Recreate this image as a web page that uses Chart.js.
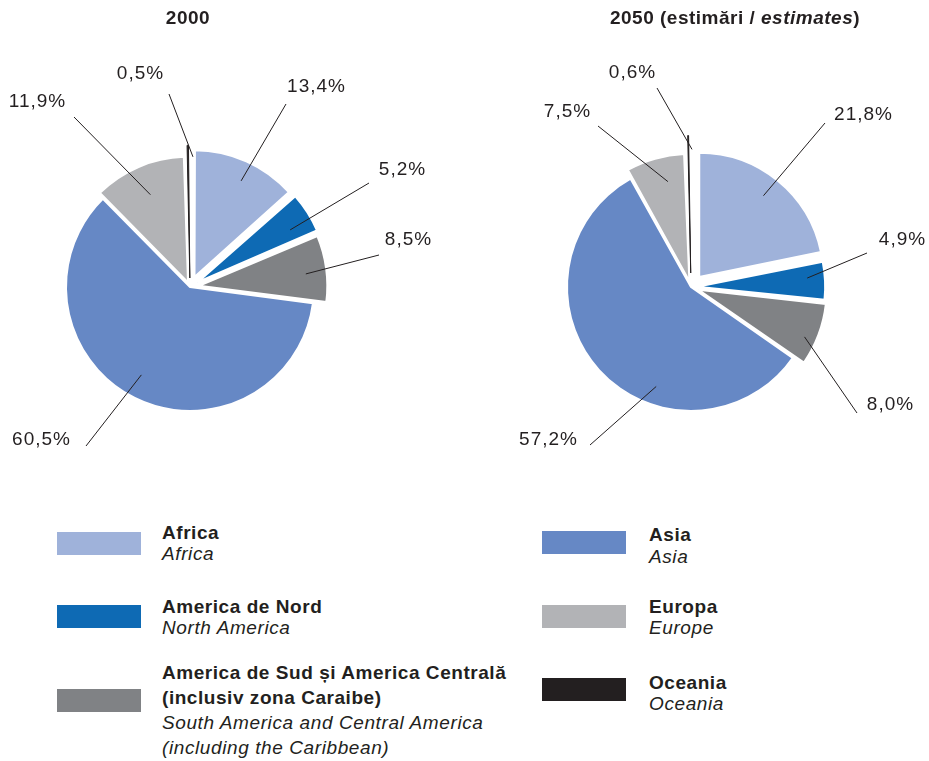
<!DOCTYPE html>
<html>
<head>
<meta charset="utf-8">
<script src="https://cdn.jsdelivr.net/npm/chart.js@4.4.1/dist/chart.umd.min.js"></script>
<style>
  html, body { margin: 0; padding: 0; background: #ffffff; }
  body { width: 929px; height: 761px; position: relative; overflow: hidden;
         font-family: "Liberation Sans", Arial, Helvetica, sans-serif; color: #231f20; }
  canvas { position: absolute; top: 0; }
  .title { position: absolute; top: 7px; font-weight: bold; font-size: 19px; line-height: 21px;
           letter-spacing: 0.5px; white-space: nowrap; transform: translateX(-50%); }
  .sw { position: absolute; width: 84px; height: 23px; }
  .lt { position: absolute; font-size: 19px; white-space: nowrap; }
  .lt .b { font-weight: bold; letter-spacing: 0.55px; }
  .lt .i { font-style: italic; letter-spacing: 0.6px; }
</style>
</head>
<body>
<canvas id="c2000" width="464" height="480" style="left:0px"></canvas>
<canvas id="c2050" width="465" height="480" style="left:464px"></canvas>
<div class="title" style="left:188px">2000</div>
<div class="title" style="left:735px">2050 (estimări / <i>estimates</i>)</div>
<div id="legend"></div>
<script>
// ---- data ----
const regionsRo = [
  ['Africa'],
  ['America de Nord'],
  ['America de Sud și America Centrală', '(inclusiv zona Caraibe)'],
  ['Asia'],
  ['Europa'],
  ['Oceania']
];
const regionsEn = [
  ['Africa'],
  ['North America'],
  ['South America and Central America', '(including the Caribbean)'],
  ['Asia'],
  ['Europe'],
  ['Oceania']
];
const share2000 = [13.4, 5.2, 8.5, 60.5, 11.9, 0.5];
const share2050 = [21.8, 4.9, 8.0, 57.2, 7.5, 0.6];
const regionColors = ['#9fb2da', '#0e6ab4', '#808285', '#6688c5', '#b2b3b6', '#231f20'];

// ---- layout (style only) ----
const offsets2000 = [44, 36, 36, 0, 20, 36];
const offsets2050 = [52, 24, 32, 0, 24, 56];
const borderWidths = [2, 2, 2, 2, 2, 1];
const borderColors = ['#ffffff', '#ffffff', '#ffffff', '#ffffff', '#ffffff', '#231f20'];
// per slice: angle tweak (deg), start radius fraction, line end [dx,dy], label centre [dx,dy] (relative to pie centre)
const leaders2000 = [
  {tw: 1.6,  fr: 0.95, end: [96, -183],  lab: [126, -202]},
  {tw: 2.7,  fr: 0.93, end: [179, -104], lab: [212, -119]},
  {tw: 1.3,  fr: 0.94, end: [189, -32],  lab: [218, -49]},
  {tw: 2.5,  fr: 0.81, end: [-104, 159], lab: [-149, 151]},
  {tw: 0,    fr: 0.81, end: [-116, -170],lab: [-153, -187]},
  {tw: 2.2,  fr: 1.05, end: [-21, -193], lab: [-50, -215]}
];
const leaders2050 = [
  {tw: -0.8,  fr: 0.94, end: [134, -164], lab: [172, -174]},
  {tw: -1.7,  fr: 0.94, end: [176, -34],  lab: [211, -49]},
  {tw: 3.2,   fr: 1.00, end: [166, 126],  lab: [199, 116]},
  {tw: -28.6, fr: 0.85, end: [-101, 158], lab: [-143, 151]},
  {tw: 3.3,   fr: 0.87, end: [-93, -161], lab: [-124, -177]},
  {tw: 1.5,   fr: 1.11, end: [-34, -199], lab: [-59, -216]}
];

const fmtPct = v => v.toFixed(1).replace('.', ',') + '%';

const leaderPlugin = {
  id: 'leaders',
  afterDatasetsDraw(chart, args, opts) {
    const meta = chart.getDatasetMeta(0);
    const values = chart.data.datasets[0].data;
    const ctx = chart.ctx;
    ctx.save();
    ctx.strokeStyle = '#231f20';
    ctx.lineWidth = 1;
    ctx.fillStyle = '#231f20';
    ctx.font = '19px "Liberation Sans", Arial, sans-serif';
    if ('letterSpacing' in ctx) ctx.letterSpacing = '1px';
    ctx.textAlign = 'center';
    ctx.textBaseline = 'alphabetic';
    meta.data.forEach((arc, i) => {
      const p = arc.getProps(['x', 'y', 'startAngle', 'endAngle', 'outerRadius'], true);
      const L = opts.layout[i];
      const a = (p.startAngle + p.endAngle) / 2 + L.tw * Math.PI / 180;
      const sx = p.x + Math.cos(a) * p.outerRadius * L.fr;
      const sy = p.y + Math.sin(a) * p.outerRadius * L.fr;
      ctx.beginPath();
      ctx.moveTo(sx, sy);
      ctx.lineTo(p.x + L.end[0], p.y + L.end[1]);
      ctx.stroke();
      ctx.fillText(fmtPct(values[i]), p.x + L.lab[0] + 0.5, p.y + L.lab[1] + 7);
    });
    ctx.restore();
  }
};

function makePie(id, values, offs, leaders, padRight) {
  return new Chart(document.getElementById(id), {
    type: 'pie',
    data: {
      labels: regionsRo.map(r => r.join(' ')),
      datasets: [{
        data: values,
        backgroundColor: regionColors,
        borderColor: borderColors,
        borderWidth: borderWidths,
        offset: offs,
        radius: 124
      }]
    },
    options: {
      responsive: false,
      animation: false,
      events: [],
      layout: { padding: { left: 0, right: padRight, top: 104, bottom: 10 } },
      plugins: {
        legend: { display: false },
        tooltip: { enabled: false },
        title: { display: false },
        leaders: { layout: leaders }
      }
    },
    plugins: [leaderPlugin]
  });
}
makePie('c2000', share2000, offsets2000, leaders2000, 84);
makePie('c2050', share2050, offsets2050, leaders2050, 11);

// ---- legend ----
const legendPos = [
  {sx: 57,  sy: 532, tx: 162, ty: 522, lh: 21},
  {sx: 57,  sy: 605, tx: 162, ty: 596, lh: 21},
  {sx: 57,  sy: 689, tx: 162, ty: 660, lh: 25},
  {sx: 542, sy: 531, tx: 649, ty: 524, lh: 22},
  {sx: 542, sy: 605, tx: 649, ty: 596, lh: 21},
  {sx: 542, sy: 678, tx: 649, ty: 672, lh: 21}
];
const legend = document.getElementById('legend');
regionsRo.forEach((ro, i) => {
  const P = legendPos[i];
  const sw = document.createElement('div');
  sw.className = 'sw';
  sw.style.left = P.sx + 'px';
  sw.style.top = P.sy + 'px';
  sw.style.background = regionColors[i];
  legend.appendChild(sw);
  const t = document.createElement('div');
  t.className = 'lt';
  t.style.left = P.tx + 'px';
  t.style.top = P.ty + 'px';
  t.style.lineHeight = P.lh + 'px';
  ro.forEach(line => {
    const d = document.createElement('div'); d.className = 'b'; d.textContent = line; t.appendChild(d);
  });
  regionsEn[i].forEach(line => {
    const d = document.createElement('div'); d.className = 'i'; d.textContent = line; t.appendChild(d);
  });
  legend.appendChild(t);
});
</script>
</body>
</html>
